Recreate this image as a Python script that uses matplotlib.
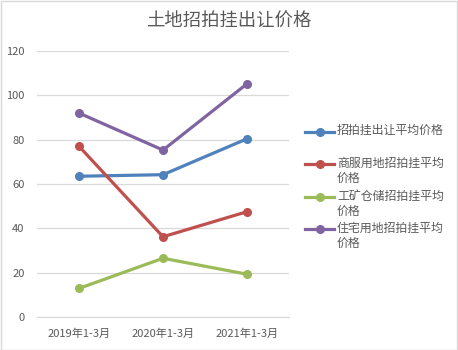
import matplotlib
matplotlib.use("Agg")
import matplotlib.pyplot as plt
from matplotlib.lines import Line2D
from matplotlib.patches import Rectangle

plt.rcParams['font.family'] = ['Noto Sans CJK SC', 'DejaVu Sans']

periods = ["2019年1-3月", "2020年1-3月", "2021年1-3月"]
avg_all = [63.5, 64.2, 80.4]
commercial = [77.0, 36.2, 47.5]
industrial = [12.9, 26.5, 19.3]
residential = [92.0, 75.3, 105.2]

series = [
    ("招拍挂出让平均价格", avg_all, "#4F81BD"),
    ("商服用地招拍挂平均\n价格", commercial, "#C0504D"),
    ("工矿仓储招拍挂平均\n价格", industrial, "#9BBB59"),
    ("住宅用地招拍挂平均\n价格", residential, "#8064A2"),
]

text_color = "#595959"
W, H = 458, 350

fig = plt.figure(figsize=(W / 100, H / 100), dpi=100)
ax = fig.add_axes([37 / W, 1 - 317 / H, 252 / W, 266 / H])

x = list(range(len(periods)))
for name, vals, color in series:
    ax.plot(x, vals, color=color, lw=2.3, marker="o", ms=5.5,
            solid_capstyle="round")

ax.set_xlim(-0.5, 2.5)
ax.set_ylim(0, 120)
ax.set_yticks(range(0, 121, 20))
ax.set_xticks(x)
ax.set_xticklabels(periods)
ax.grid(axis="y", color="#D9D9D9", lw=0.9)
ax.set_axisbelow(True)
for s in ["top", "right", "left"]:
    ax.spines[s].set_visible(False)
ax.spines["bottom"].set_color("#D9D9D9")
ax.tick_params(axis="both", length=0, labelsize=8, colors=text_color)
ax.tick_params(axis="y", pad=9)
ax.tick_params(axis="x", pad=8)

fig.text(0.5, 1 - 22 / H, "土地招拍挂出让价格", ha="center", va="center",
         fontsize=13.2, color=text_color, fontweight="light")

# legend drawn by hand so the marker lines up with the first text line
legend_y = [131.7, 164, 197, 229]
for (name, vals, color), ly in zip(series, legend_y):
    yf = 1 - ly / H
    fig.add_artist(Line2D([305 / W, 334 / W], [yf, yf], color=color, lw=2.3,
                          transform=fig.transFigure))
    fig.add_artist(Line2D([320 / W], [yf], color=color, marker="o", ms=5.5,
                          transform=fig.transFigure))
    fig.text(337 / W, yf + 7.5 / H, name, ha="left", va="top", fontsize=8.6,
             color=text_color, linespacing=1.2)

fig.add_artist(Rectangle((0.5 / W, 0.5 / H), 1 - 1.5 / W, 1 - 1.5 / H,
                         transform=fig.transFigure, fill=False,
                         edgecolor="#D9D9D9", lw=1))

fig.savefig("out.png", dpi=100, facecolor="white")
